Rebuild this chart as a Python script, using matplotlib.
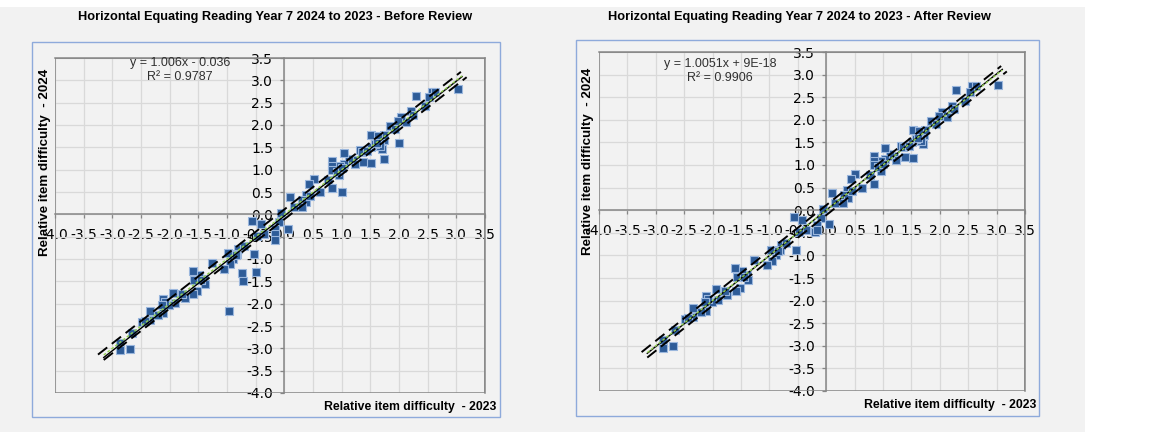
"""Horizontal equating scatter plots (Reading Year 7, 2024 vs 2023)."""

import matplotlib

matplotlib.use("Agg")

import matplotlib.pyplot as plt
import numpy as np
from matplotlib.patches import Rectangle

# Relative item difficulties, before review (x = 2023, y = 2024).
before_x = [3.03, 2.29, 2.57, 2.63, 2.53, 2.45, 2.21, 2.25, 2.13, 2.03, 1.99, 2.00,
            1.84, 1.93, 1.73, 1.74, 1.52, 1.63, 1.70, 1.67, 1.73, 1.52, 1.38, 1.32,
            1.36, 1.51, 1.58, 1.20, 1.23, 1.13, 1.04, 1.04, 0.97, 0.96, 0.84, 0.84,
            0.84, 0.84, 1.00, 0.91, 0.77, 0.63, 0.51, 0.43, 0.37, 0.31, 0.38, 0.30,
            0.10, 0.16, -0.05, 0.07, -0.10, -0.16, -0.16, -0.16, -0.40, -0.56, -0.36,
            -0.48, -0.53, -0.49, -0.73, -0.72, -0.80, -0.82, -0.89, -0.98, -0.95,
            -1.05, -0.96, -1.27, -1.40, -1.38, -1.49, -1.60, -1.57, -1.52, -1.59,
            -1.74, -1.79, -1.94, -1.91, -2.01, -2.11, -2.08, -2.11, -2.14, -2.26,
            -2.35, -2.34, -2.49, -2.43, -2.66, -2.69, -2.87, -2.87,
            1.45, 1.62, 0.45, 1.00, -0.85, -0.70, -2.20, -1.45]
before_y = [2.80, 2.65, 2.74, 2.74, 2.62, 2.42, 2.31, 2.23, 2.07, 2.18, 2.09, 1.60,
            1.97, 1.90, 1.66, 1.77, 1.77, 1.75, 1.47, 1.52, 1.25, 1.15, 1.17, 1.43,
            1.40, 1.50, 1.58, 1.21, 1.12, 1.25, 1.38, 1.13, 1.09, 0.87, 1.19, 1.08,
            1.00, 0.59, 0.50, 0.95, 0.77, 0.49, 0.80, 0.69, 0.44, 0.33, 0.28, 0.16,
            0.39, 0.16, 0.03, -0.32, -0.17, -0.32, -0.43, -0.58, -0.21, -0.15, -0.43,
            -0.48, -0.88, -1.29, -1.31, -1.49, -0.77, -0.88, -0.99, -0.87, -1.12,
            -1.22, -2.17, -1.10, -1.44, -1.55, -1.35, -1.27, -1.48, -1.72, -1.79,
            -1.87, -1.78, -1.75, -1.99, -2.04, -1.89, -1.96, -2.22, -2.04, -2.26,
            -2.16, -2.37, -2.41, -2.38, -2.66, -3.01, -2.88, -3.04,
            1.42, 1.60, 0.42, 1.03, -0.90, -0.72, -2.25, -1.47]

# After review: outlying items removed.
after_x = [3.02, 2.28, 2.57, 2.63, 2.53, 2.45, 2.21, 2.25, 2.13, 2.03, 1.99,
           1.84, 1.93, 1.73, 1.74, 1.52, 1.63, 1.70, 1.67, 1.52, 1.38, 1.32,
           1.36, 1.51, 1.58, 1.20, 1.23, 1.13, 1.04, 1.04, 0.97, 0.96, 0.84, 0.84,
           0.84, 0.84, 0.91, 0.77, 0.63, 0.51, 0.43, 0.37, 0.31, 0.38, 0.30,
           0.10, 0.16, -0.05, 0.05, -0.10, -0.16, -0.20, -0.16, -0.42, -0.56, -0.36,
           -0.48, -0.54, -0.80, -0.82, -0.89, -0.98, -0.95,
           -1.05, -1.27, -1.40, -1.38, -1.49, -1.60, -1.57, -1.52, -1.59,
           -1.74, -1.79, -1.94, -1.91, -2.01, -2.11, -2.08, -2.11, -2.14, -2.26,
           -2.35, -2.34, -2.49, -2.43, -2.66, -2.69, -2.87, -2.87,
           1.45, 1.62, 0.45, 1.00, -0.85, -0.70, -2.20, -1.45]
after_y = [2.78, 2.65, 2.74, 2.74, 2.62, 2.42, 2.31, 2.23, 2.07, 2.18, 2.09,
           1.97, 1.90, 1.66, 1.77, 1.77, 1.75, 1.47, 1.52, 1.15, 1.17, 1.43,
           1.40, 1.50, 1.58, 1.21, 1.12, 1.25, 1.38, 1.13, 1.09, 0.87, 1.19, 1.08,
           1.00, 0.59, 0.95, 0.77, 0.49, 0.80, 0.69, 0.44, 0.33, 0.28, 0.16,
           0.39, 0.16, 0.03, -0.31, -0.17, -0.32, -0.49, -0.43, -0.21, -0.15, -0.43,
           -0.48, -0.88, -0.77, -0.88, -0.99, -0.87, -1.12,
           -1.22, -1.10, -1.44, -1.55, -1.35, -1.27, -1.48, -1.72, -1.79,
           -1.87, -1.78, -1.75, -1.99, -2.04, -1.89, -1.96, -2.22, -2.04, -2.26,
           -2.16, -2.37, -2.41, -2.38, -2.66, -3.01, -2.88, -3.04,
           1.42, 1.60, 0.42, 1.03, -0.90, -0.72, -2.25, -1.47]

titles = ["Horizontal Equating Reading Year 7 2024 to 2023 - Before Review",
          "Horizontal Equating Reading Year 7 2024 to 2023 - After Review"]
slopes = [1.006, 1.0051]
intercepts = [-0.036, 9e-18]
equations = ["y = 1.006x - 0.036\nR² = 0.9787",
             "y = 1.0051x + 9E-18\nR² = 0.9906"]
band_halfwidth = 0.11

W, H = 1156, 432
BG = "#f2f2f2"
GRID = "#d9d9d9"
AXIS_GRAY = "#868686"
BOX_BLUE = "#8eaadb"
POINT = "#2e5c98"
POINT_EDGE = "#9bb7dd"


def px(x, y):
    """Pixel coordinates (from top-left) to figure fraction."""
    return x / W, 1 - y / H


def draw_panel(fig, rect, box, title_xy, eq_xy, ylab_xy, xlab_xy, xs, ys, k):
    # outer chart-area box
    bx0, by0 = px(box[0], box[3])
    bx1, by1 = px(box[2], box[1])
    fig.patches.append(Rectangle((bx0, by0), bx1 - bx0, by1 - by0,
                                 transform=fig.transFigure, fill=False,
                                 edgecolor=BOX_BLUE, linewidth=1.0))

    l, t = px(rect[0], rect[1])
    r, b = px(rect[2], rect[3])
    ax = fig.add_axes([l, b, r - l, t - b])
    ax.set_facecolor(BG)
    ax.set_xlim(-4.0, 3.5)
    ax.set_ylim(-4.0, 3.5)
    ticks = np.arange(-4.0, 3.51, 0.5)
    ax.set_xticks(ticks)
    ax.set_yticks(ticks)
    labels = [f"{v:.1f}" for v in ticks]
    ax.set_xticklabels(labels, fontsize=7.2, color="#404040", family="Lato")
    ax.set_yticklabels(labels, fontsize=7.4, color="#404040", family="Lato")
    ax.grid(True, color=GRID, linewidth=0.9)
    ax.set_axisbelow(True)

    ax.spines["left"].set_position(("data", 0))
    ax.spines["bottom"].set_position(("data", 0))
    for name in ["left", "bottom"]:
        ax.spines[name].set_color(AXIS_GRAY)
        ax.spines[name].set_linewidth(1.1)
        ax.spines[name].set_zorder(1.5)
    for name in ["top", "right"]:
        ax.spines[name].set_color(AXIS_GRAY)
        ax.spines[name].set_linewidth(1.1)
    ax.add_patch(Rectangle((0, 0), 1, 1, transform=ax.transAxes, fill=False,
                           edgecolor=AXIS_GRAY, linewidth=1.1, zorder=1.5))
    ax.tick_params(axis="y", direction="out", length=3, width=0.9,
                   color=AXIS_GRAY, pad=5)
    ax.tick_params(axis="x", direction="out", length=3, width=0.9,
                   color=AXIS_GRAY, pad=7)

    ax.scatter(xs, ys, marker="s", s=27, color=POINT, edgecolors=POINT_EDGE,
               linewidths=0.8, zorder=3)

    # trendline, identity line and +/- bands
    xl = np.array([-3.15, 3.1])
    ax.plot(xl, slopes[k] * xl + intercepts[k], color="black", linewidth=1.0, zorder=4)
    ax.plot(xl, xl, color="#92d050", linewidth=1.0, linestyle=(0, (2, 1.5)), zorder=5)
    xb = np.array([-3.2, 3.13])
    ax.plot(xb - 0.05, xb - 0.05 + band_halfwidth, color="black", linewidth=1.4,
            linestyle=(0, (6, 3)), zorder=4)
    ax.plot(xb + 0.05, xb + 0.05 - band_halfwidth, color="black", linewidth=1.4,
            linestyle=(0, (6, 3)), zorder=4)

    fig.text(*px(*title_xy), titles[k], ha="center", va="center", fontsize=9.2,
             fontweight="bold", family="Liberation Sans")
    fig.text(*px(*eq_xy), equations[k], ha="center", va="center", fontsize=9,
             color="#303030", family="Liberation Sans", linespacing=1.3)
    fig.text(*px(*ylab_xy), "Relative item difficulty  - 2024", rotation=90,
             ha="center", va="center", fontsize=9.6, fontweight="bold",
             family="Liberation Sans")
    fig.text(*px(*xlab_xy), "Relative item difficulty  - 2023", ha="right",
             va="center", fontsize=8.8, fontweight="bold", family="Liberation Sans")
    return ax


fig = plt.figure(figsize=(W / 100, H / 100), dpi=100, facecolor="white")
fig.patches.append(Rectangle((0, 0), 1085 / W, 1 - 7 / H, transform=fig.transFigure,
                             facecolor=BG, edgecolor="none", zorder=-10))

draw_panel(fig, (55, 58, 485, 393), (32, 42, 500, 417), (275, 17), (180, 70),
           (45, 162), (496, 407), before_x, before_y, 0)
draw_panel(fig, (599, 52, 1025, 391), (576, 40, 1039, 416), (799, 17), (720, 71),
           (588, 161), (1036, 405), after_x, after_y, 1)

fig.savefig("out.png", dpi=100, facecolor=fig.get_facecolor())
